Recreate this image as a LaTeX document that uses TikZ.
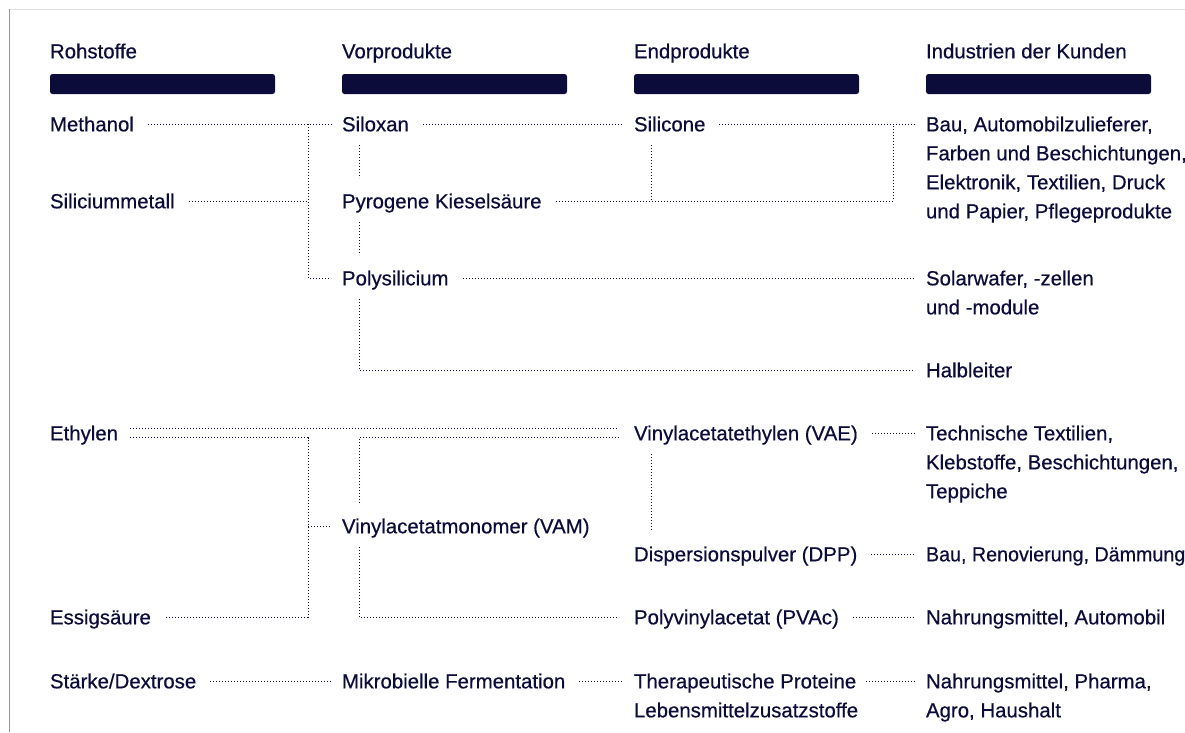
\documentclass[tikz,border=0pt]{standalone}
\usepackage{fontspec}
\usepackage{graphicx}
\setmainfont{Liberation Sans}
\newfontface\medfont{Liberation Sans}[FakeBold=0.45]
\usetikzlibrary{calc}
\definecolor{navy}{RGB}{12,12,58}
\definecolor{bordertop}{RGB}{222,222,222}
\definecolor{borderleft}{RGB}{150,150,150}
\tikzset{
  lbl/.style={inner sep=0pt, outer sep=0pt, anchor=base west, text=navy,
    font=\medfont\fontsize{20.4}{29}\selectfont},
  dl/.style={draw=navy, line width=1pt, dash pattern=on 1pt off 2pt},
  headbar/.style={fill=navy, rounded corners=2.5pt}
}
\newcommand\mylbl[4]{%
  \node[lbl] (#1) at (#2,#3+7.3) {\begin{tabular}[t]{@{}l@{}}#4\end{tabular}};
  \coordinate (#1-l) at ($(#1.base west)+(-11,-7.3)$);
  \coordinate (#1-r) at ($(#1.base east)+(14,-7.3)$);
  \coordinate (#1-t) at ($(#1.base west)+(17,-30.3)$);
  \coordinate (#1-b) at ($(#1.base west)+(17,13.7)$);
}
\begin{document}
\begin{tikzpicture}[x=1pt,y=-1pt]
\useasboundingbox (0,0) rectangle (1185,732);
\fill[white] (0,0) rectangle (1185,732);
% frame
\draw[bordertop, line width=1.5pt] (9,9.5) -- (1185,9.5);
\draw[borderleft, line width=1.2pt] (9.5,9) -- (9.5,732);
% headers
\mylbl{h1}{50}{51}{Rohstoffe}
\mylbl{h2}{342}{51}{Vorprodukte}
\mylbl{h3}{634}{51}{Endprodukte}
\mylbl{h4}{926}{51}{Industrien der Kunden}
\fill[headbar] (50,74) rectangle (275,94);
\fill[headbar] (342,74) rectangle (567,94);
\fill[headbar] (634,74) rectangle (859,94);
\fill[headbar] (926,74) rectangle (1151,94);
% column 1
\mylbl{meth}{50}{124}{Methanol}
\mylbl{silm}{50}{201}{Siliciummetall}
\mylbl{eth}{50}{433}{Ethylen}
\mylbl{ess}{50}{617}{Essigsäure}
\mylbl{sta}{50}{681}{Stärke/Dextrose}
% column 2
\mylbl{silox}{342}{124}{Siloxan}
\mylbl{pyro}{342}{201}{Pyrogene Kieselsäure}
\mylbl{poly}{342}{278}{Polysilicium}
\mylbl{vam}{342}{526}{Vinylacetatmonomer (VAM)}
\mylbl{mikro}{342}{681}{Mikrobielle Fermentation}
% column 3
\mylbl{silic}{634}{124}{Silicone}
\mylbl{vae}{634}{433}{Vinylacetatethylen (VAE)}
\mylbl{dpp}{634}{554}{Dispersionspulver (DPP)}
\mylbl{pvac}{634}{617}{Polyvinylacetat (PVAc)}
\mylbl{thera}{634}{681}{Therapeutische Proteine\\Lebensmittelzusatzstoffe}
% column 4
\mylbl{bau}{926}{124}{Bau, Automobilzulieferer,\\Farben und Beschichtungen,\\Elektronik, Textilien, Druck\\und Papier, Pflegeprodukte}
\mylbl{solar}{926}{278}{Solarwafer, -zellen\\und -module}
\mylbl{halb}{926}{370}{Halbleiter}
\mylbl{tech}{926}{433}{Technische Textilien,\\Klebstoffe, Beschichtungen,\\Teppiche}
\mylbl{bau2}{926}{554}{\scalebox{0.965}[1]{Bau, Renovierung, Dämmung}}
\mylbl{nahr}{926}{617}{Nahrungsmittel, Automobil}
\mylbl{nahr2}{926}{681}{Nahrungsmittel, Pharma,\\Agro, Haushalt}
% junctions
\coordinate (ja) at (308,124);
\coordinate (jb) at (893,124);
\coordinate (je) at (308,437.5);
% silicon branch
\draw[dl] (meth-r) -- (silox-l);
\draw[dl] (silm-r) -- (ja |- silm-r);
\draw[dl] (ja) |- (poly-l);
\draw[dl] (silox-r) -- (silic-l);
\draw[dl] (silic-r) -- (bau-l);
\draw[dl] (silox-b) -- (pyro-t);
\draw[dl] (pyro-b) -- (poly-t);
\draw[dl] (silic-b) -- (silic-b |- pyro-r);
\draw[dl] (pyro-r) -| (jb);
\draw[dl] (poly-r) -- (solar-l);
\draw[dl] (poly-b) |- (halb-l);
% vinyl branch
\draw[dl] ($(eth-r)+(-2,-4.5)$) -- ($(vae-l)+(-4,-4.5)$);
\draw[dl] ($(eth-r)+(-2,4.5)$) -- (je) -- (je |- ess-r) -- (ess-r);
\draw[dl] (je |- vam-l) -- (vam-l);
\draw[dl] (vam-t) |- ($(vae-l)+(-4,4.5)$);
\draw[dl] (vam-b) |- ($(pvac-l)+(-4,0)$);
\draw[dl] (vae-b) -- (dpp-t);
\draw[dl] (vae-r) -- (tech-l);
\draw[dl] (dpp-r) -- (bau2-l);
\draw[dl] (pvac-r) -- (nahr-l);
% fermentation branch
\draw[dl] (sta-r) -- (mikro-l);
\draw[dl] (mikro-r) -- (thera-l);
\draw[dl] ($(thera-r)+(-6,0)$) -- (nahr2-l);
\end{tikzpicture}
\end{document}
